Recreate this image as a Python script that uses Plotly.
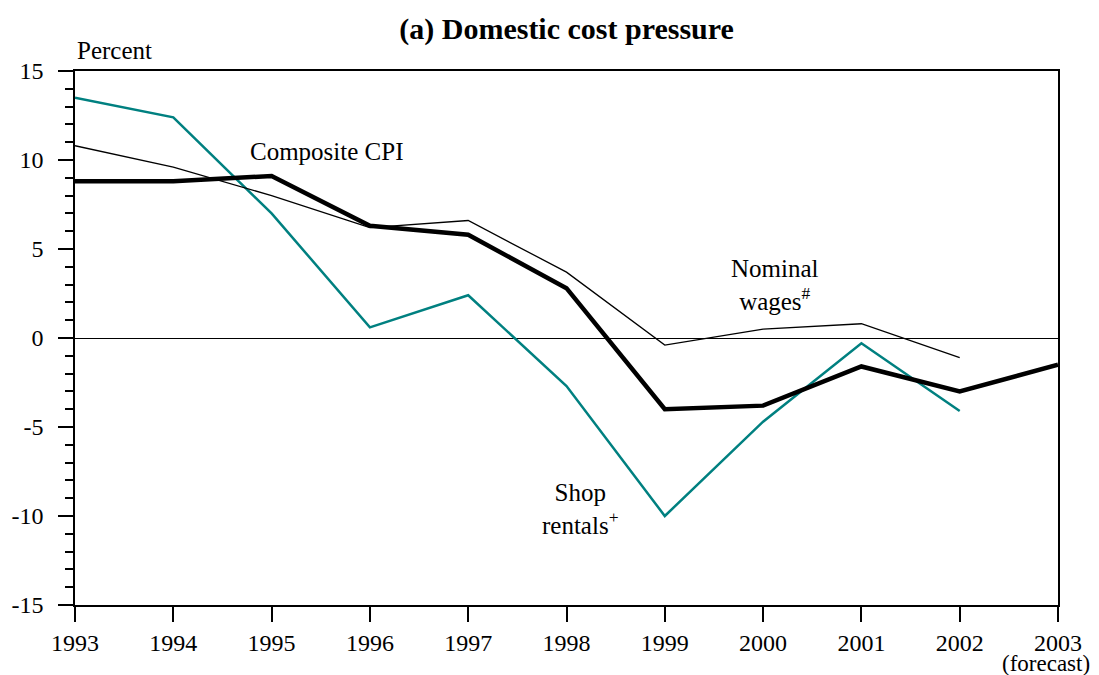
import plotly.graph_objects as go

years = [1993, 1994, 1995, 1996, 1997, 1998, 1999, 2000, 2001, 2002, 2003]
composite_cpi = [8.8, 8.8, 9.1, 6.3, 5.8, 2.8, -4.0, -3.8, -1.6, -3.0, -1.5]
wage_years = years[:-1]
nominal_wages = [10.8, 9.6, 8.0, 6.2, 6.6, 3.7, -0.4, 0.5, 0.8, -1.1]
shop_rentals = [13.5, 12.4, 7.0, 0.6, 2.4, -2.7, -10.0, -4.7, -0.3, -4.1]
tick_labels = [str(y) for y in years]
y_ticks = [-15, -10, -5, 0, 5, 10, 15]

FONT = "Liberation Serif, Times New Roman, serif"

fig = go.Figure()
fig.add_trace(go.Scatter(x=wage_years, y=shop_rentals, mode="lines",
                         line=dict(color="#008080", width=2.5)))
fig.add_trace(go.Scatter(x=wage_years, y=nominal_wages, mode="lines",
                         line=dict(color="black", width=1.3)))
fig.add_trace(go.Scatter(x=years, y=composite_cpi, mode="lines",
                         line=dict(color="black", width=4.5)))

# series labels
fig.add_annotation(x=1995.56, y=10.5, text="Composite CPI", showarrow=False)
fig.add_annotation(x=2000.12, y=3.0, text="Nominal<br>wages<sup>#</sup>", showarrow=False)
fig.add_annotation(x=1998.14, y=-9.6, text="Shop<br>rentals<sup>+</sup>", showarrow=False)
fig.add_annotation(x=0, y=1, xref="paper", yref="paper", xanchor="left", yanchor="middle",
                   text="Percent", showarrow=False, yshift=21)
fig.add_annotation(x=2003, y=0, yref="paper", xanchor="center", yanchor="middle",
                   text="(forecast)", showarrow=False, yshift=-58, xshift=-12,
                   font=dict(size=23))

# page body adds an 8px offset, so margins are shifted by that much
fig.update_layout(
    width=1091, height=667,
    margin=dict(l=67, r=41, t=63, b=70),
    template="simple_white",
    showlegend=False,
    font=dict(family=FONT, size=25, color="black"),
    title=dict(text="<b>(a) Domestic cost pressure</b>", x=0.512, xanchor="center",
               y=1 - 20 / 667, yanchor="middle", font=dict(size=30)),
    plot_bgcolor="white",
)
fig.update_xaxes(
    range=[1993, 2003], tickvals=years, ticktext=tick_labels,
    tickfont=dict(size=24),
    showline=True, linecolor="black", linewidth=1.5, mirror=True,
    ticks="outside", ticklen=15, tickwidth=1.5, tickcolor="black",
    showgrid=False, zeroline=False, automargin=False,
)
fig.update_yaxes(
    range=[-15, 15], tickvals=y_ticks, ticktext=[str(v) for v in y_ticks],
    tickfont=dict(size=24), ticklabelstandoff=10,
    showline=True, linecolor="black", linewidth=1.5, mirror=True,
    ticks="outside", ticklen=15, tickwidth=1.5, tickcolor="black",
    minor=dict(dtick=1, ticks="outside", ticklen=8, tickwidth=1.5, tickcolor="black"),
    showgrid=False, zeroline=True, zerolinecolor="black", zerolinewidth=1.3,
    automargin=False,
)

fig.write_html("out.html")
